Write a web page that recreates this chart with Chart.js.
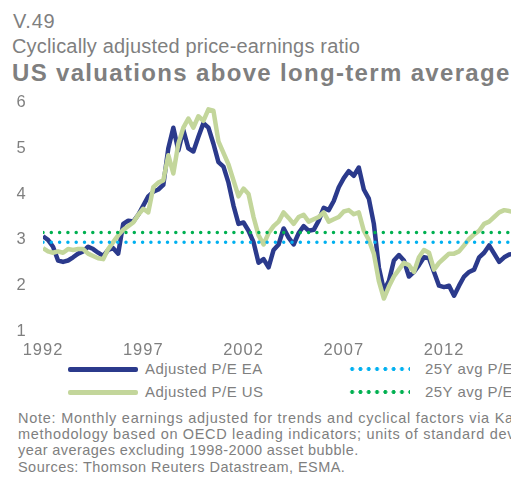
<!DOCTYPE html>
<html>
<head>
<meta charset="utf-8">
<script src="https://cdn.jsdelivr.net/npm/chart.js@4.4.1/dist/chart.umd.min.js"></script>
<style>
  html, body { margin: 0; padding: 0; background: #fff; }
  body { width: 511px; height: 479px; overflow: hidden; position: relative;
         font-family: 'Liberation Sans', Arial, sans-serif; color: #7f7f7f; }
  .t { position: absolute; white-space: nowrap; line-height: 1; }
  #wrap { position: absolute; left: 0; top: 90px; width: 511px; height: 270px; }
  .lg-line { position: absolute; height: 4.5px; border-radius: 2px; }
  .lg-dots { position: absolute; height: 6px; background-size: 8.3px 6px; }
  .lg-txt { font-size: 15px; letter-spacing: 0.45px; }
  .note { font-size: 14.5px; }
</style>
</head>
<body>
<div class="t" style="left:13px;top:11px;font-size:20px;letter-spacing:0.8px;">V.49</div>
<div class="t" style="left:12px;top:36px;font-size:20px;letter-spacing:0.17px;">Cyclically adjusted price-earnings ratio</div>
<div class="t" style="left:12px;top:60.7px;font-size:24px;font-weight:bold;letter-spacing:1.33px;">US valuations above long-term average</div>

<div id="wrap"><canvas id="peChart"></canvas></div>

<div class="lg-line" style="left:68px;top:367px;width:70px;background:#2b3a8c;"></div>
<div class="t lg-txt" style="left:145px;top:361px;">Adjusted P/E EA</div>
<div class="lg-line" style="left:68px;top:390px;width:70px;background:#c3d69b;"></div>
<div class="t lg-txt" style="left:145px;top:384px;">Adjusted P/E US</div>
<div class="lg-dots" style="left:348px;top:366px;width:62px;background-image:radial-gradient(circle, #00b0f0 1.7px, transparent 2.2px);"></div>
<div class="t lg-txt" style="left:425px;top:361px;">25Y avg P/E EA</div>
<div class="lg-dots" style="left:348px;top:389px;width:62px;background-image:radial-gradient(circle, #00b050 1.7px, transparent 2.2px);"></div>
<div class="t lg-txt" style="left:425px;top:384px;">25Y avg P/E US</div>

<div class="t note" style="left:18px;top:410.7px;letter-spacing:0.74px;">Note: Monthly earnings adjusted for trends and cyclical factors via Kalman filter</div>
<div class="t note" style="left:18px;top:426.7px;letter-spacing:0.67px;">methodology based on OECD leading indicators; units of standard deviation. 25-</div>
<div class="t note" style="left:18px;top:442.7px;letter-spacing:0.42px;">year averages excluding 1998-2000 asset bubble.</div>
<div class="t note" style="left:18px;top:459.7px;letter-spacing:0.45px;">Sources: Thomson Reuters Datastream, ESMA.</div>

<script>
// quarterly observations starting 1992 Q1
const startYear = 1992;
const stepYears = 0.25;

const peEA = [
  3.08, 3.0, 2.85, 2.55,
  2.52, 2.55, 2.62, 2.7,
  2.75, 2.85, 2.8, 2.72,
  2.65, 2.78, 2.82, 2.7,
  3.35, 3.42, 3.4, 3.55,
  3.75, 3.95, 4.05, 4.1,
  4.2, 5.0, 5.45, 4.95,
  5.4, 5.0, 4.93, 5.25,
  5.55, 5.45, 5.1, 4.7,
  4.6, 4.25, 3.75, 3.35,
  3.38, 3.2, 2.95, 2.5,
  2.58, 2.4, 2.78, 2.9,
  3.25, 3.05, 2.9, 3.15,
  3.3, 3.2, 3.22, 3.42,
  3.7, 3.65, 3.85, 4.15,
  4.35, 4.5, 4.4, 4.58,
  4.1, 3.9, 3.35, 2.4,
  1.9, 2.1, 2.55, 2.67,
  2.55, 2.2, 2.3, 2.45,
  2.62, 2.6, 2.3, 2.0,
  1.97, 2.0, 1.78, 2.0,
  2.2, 2.3, 2.35, 2.62,
  2.72, 2.88, 2.7, 2.52,
  2.62, 2.68, 2.7
];

const peUS = [
  2.82, 2.75, 2.72, 2.75,
  2.72, 2.8, 2.78, 2.8,
  2.8, 2.7, 2.65, 2.6,
  2.58, 2.8, 2.95, 3.1,
  3.22, 3.3, 3.38, 3.55,
  3.68, 3.6, 4.15, 4.25,
  4.3, 4.85, 4.45, 5.1,
  5.45, 5.65, 5.45, 5.7,
  5.6, 5.85, 5.82, 5.15,
  4.9, 4.65, 4.3, 3.95,
  4.12, 4.0, 3.5, 3.1,
  2.9, 3.15, 3.3, 3.4,
  3.6, 3.48, 3.35, 3.5,
  3.55, 3.4, 3.45, 3.5,
  3.6, 3.4, 3.45, 3.5,
  3.62, 3.65, 3.56, 3.6,
  3.2, 3.0, 2.7, 2.1,
  1.72, 1.98, 2.2, 2.35,
  2.5, 2.45, 2.3, 2.62,
  2.78, 2.72, 2.35, 2.5,
  2.6, 2.7, 2.7, 2.75,
  2.88, 3.02, 3.12, 3.2,
  3.35, 3.4, 3.5, 3.6,
  3.65, 3.63, 3.6
];

const avgEA = 2.95;
const avgUS = 3.16;

const xTicks = [1992, 1997, 2002, 2007, 2012];
const yTicks = [1, 2, 3, 4, 5, 6];

const toPoints = arr => arr.map((v, i) => ({ x: startYear + i * stepYears, y: v }));
const lastX = startYear + (peEA.length - 1) * stepYears;
const flat = v => [{ x: startYear, y: v }, { x: lastX, y: v }];

const dotted = {
  borderWidth: 3.5,
  borderDash: [0, 8.3],
  borderCapStyle: 'round',
  pointRadius: 0,
  fill: false
};

// the source chart spaces its axis digits a little wider
const spacedText = {
  id: 'spacedText',
  beforeDraw: chart => { chart.ctx.letterSpacing = '1px'; }
};

const tickFont = { family: "'Liberation Sans', Arial, sans-serif", size: 16.5 };

const ctx = document.getElementById('peChart').getContext('2d');
new Chart(ctx, {
  type: 'line',
  data: {
    datasets: [
      Object.assign({ label: '25Y avg P/E EA', data: flat(avgEA), borderColor: '#00b0f0', order: 0 }, dotted),
      Object.assign({ label: '25Y avg P/E US', data: flat(avgUS), borderColor: '#00b050', order: 0 }, dotted),
      {
        label: 'Adjusted P/E US',
        data: toPoints(peUS),
        borderColor: '#c3d69b',
        borderWidth: 4.5,
        borderJoinStyle: 'round',
        pointRadius: 0,
        tension: 0,
        order: 1
      },
      {
        label: 'Adjusted P/E EA',
        data: toPoints(peEA),
        borderColor: '#2b3a8c',
        borderWidth: 4.5,
        borderJoinStyle: 'round',
        pointRadius: 0,
        tension: 0,
        order: 2
      }
    ]
  },
  options: {
    responsive: true,
    maintainAspectRatio: false,
    animation: false,
    layout: { padding: { top: 12.5, right: 0, left: 16.5, bottom: 0 } },
    plugins: {
      legend: { display: false },
      tooltip: { enabled: false }
    },
    scales: {
      x: {
        type: 'linear',
        min: 1992,
        max: 2015.34,
        grid: { display: false, drawTicks: false },
        border: { display: false },
        afterBuildTicks: scale => { scale.ticks = xTicks.map(v => ({ value: v })); },
        afterFit: scale => { scale.height = 28.5; },
        ticks: {
          padding: 9,
          maxRotation: 0,
          color: '#7f7f7f',
          font: tickFont,
          callback: v => String(v)
        }
      },
      y: {
        min: 1,
        max: 6,
        grid: { display: false, drawTicks: false },
        border: { display: false },
        afterBuildTicks: scale => { scale.ticks = yTicks.map(v => ({ value: v })); },
        afterFit: scale => { scale.width = 26.5; },
        ticks: {
          padding: 0,
          crossAlign: 'far',
          color: '#7f7f7f',
          font: tickFont
        }
      }
    }
  },
  plugins: [spacedText]
});
</script>
</body>
</html>
